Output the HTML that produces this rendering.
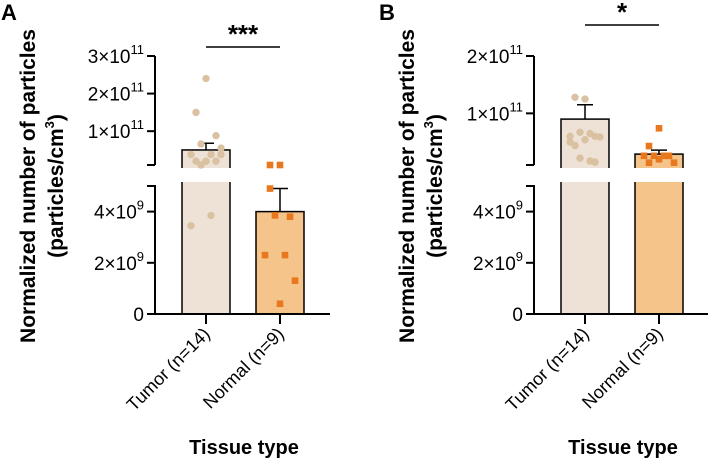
<!DOCTYPE html>
<html><head><meta charset="utf-8"><style>
body{margin:0;background:#fff}
svg{display:block;font-family:"Liberation Sans",Arial,sans-serif}
</style></head><body>
<svg id="fig" width="708" height="462" viewBox="0 0 708 462" xmlns="http://www.w3.org/2000/svg"></svg>
<script>
const categories = ["Tumor (n=14)", "Normal (n=9)"];
const aMeans = [5.0e10, 4.0e9];
const aErrTop = [6.8e10, 4.9e9];
const aTumorPts = [2.4e11, 1.5e11, 8.8e10, 6.6e10, 3.8e10, 3.8e10, 3.8e10, 2.0e10, 2.0e10, 2.0e10, 1.0e10, 3.85e9, 3.45e9, 5.5e10];
const aNormalPts = [1.0e10, 4.9e9, 3.8e9, 3.85e9, 2.3e9, 2.3e9, 1.3e9, 0.4e9, 1.0e10];
const bMeans = [9.0e10, 2.9e10];
const bErrTop = [1.15e11, 3.6e10];
const bTumorPts = [1.25e11, 1.28e11, 6.0e10, 6.7e10, 6.5e10, 5.0e10, 5.9e10, 5.4e10, 4.4e10, 1.5e10, 2.2e10, 1.7e10, 6.0e10];
const bNormalPts = [7.4e10, 4.3e10, 2.6e10, 2.6e10, 2.6e10, 2.6e10, 1.4e10, 2.0e10, 1.4e10];
const aUpperTicks = [1e11, 2e11, 3e11];
const aUpperLabels = ["1", "2", "3"];
const bUpperTicks = [1e11, 2e11];
const bUpperLabels = ["1", "2"];
const lowerTicks = [0, 2e9, 4e9];
const lowerLabels = ["0", "2", "4"];

const NS = "http://www.w3.org/2000/svg";
const svg = document.getElementById("fig");
function el(tag, attrs, parent, text) {
  const e = document.createElementNS(NS, tag);
  for (const k in attrs) e.setAttribute(k, attrs[k]);
  if (text !== undefined) e.textContent = text;
  (parent || svg).appendChild(e);
  return e;
}
const JIT = [0, -10, 10, -5, 5, -15, 15];

function panel(o) {
  const g = el("g", {});
  
  
  const ax = o.ax;
  const yUp = v => 165 - (v - 1e10) / (o.upMax - 1e10) * 109;
  const yLo = v => 314 - v / 5e9 * 128;
  const y = v => v >= 8e9 ? yUp(v) : yLo(v);
  const xc = [ax + 51, ax + 125];
  const fills = ["#ede2d5", "#f5c48a"];
  const ptc = ["#d9c1a2", "#e8781e"];
  o.means.forEach((m, i) => {
    const top = y(m);
    const b = el("rect", {x: xc[i] - 24, y: top, width: 48, height: 314 - top, fill: fills[i], stroke: "#000", "stroke-width": 1.5}, g);
    
    
    const e = el("path", {d: `M${xc[i]} ${top} V${y(o.err[i])} M${xc[i]-8} ${y(o.err[i])} H${xc[i]+8}`, stroke: "#000", "stroke-width": 1.5, fill: "none"}, g);
    
    
  });
  el("rect", {x: ax - 2, y: 168, width: 180, height: 14, fill: "#fff"}, g);
  o.tp.forEach((v, j) => {
    const c = el("circle", {cx: xc[0] + JIT[j % 7], cy: y(v), r: 3.7, fill: ptc[0]}, g);
    
    
  });
  o.np.forEach((v, j) => {
    const c = el("rect", {x: xc[1] + JIT[j % 7] - 3.3, y: y(v) - 3.3, width: 6.6, height: 6.6, fill: ptc[1]}, g);
    
    
  });
  const axes = el("path", {d: `M${ax} 56 V165 M${ax-8} 165 H${ax} M${ax-8} 186 H${ax} V314 H${ax+o.xEnd}`, stroke: "#000", "stroke-width": 2, fill: "none"}, g);
  
  
  const tickLab = (yy, mant, exp) => {
    el("path", {d: `M${ax-8} ${yy} H${ax}`, stroke: "#000", "stroke-width": 2}, g);
    const t = el("text", {x: ax - 11, y: yy + 7, "text-anchor": "end", "font-size": 19}, g);
    
    
    if (exp) {
      el("tspan", {}, t, mant + "×10");
      el("tspan", {"font-size": 13, dy: -9}, t, exp);
    } else t.textContent = mant;
  };
  o.upT.forEach((v, i) => tickLab(yUp(v), o.upL[i], "11"));
  lowerTicks.forEach((v, i) => tickLab(yLo(v), lowerLabels[i], v ? "9" : ""));
  categories.forEach((c, i) => {
    el("path", {d: `M${xc[i]} 314 V324`, stroke: "#000", "stroke-width": 2}, g);
    const t = el("text", {x: 0, y: 0, "text-anchor": "end", "font-size": 18, transform: `translate(${xc[i]+5},${335}) rotate(-45)`}, g, c);
    
    
  });
  const xt = el("text", {x: ax + 89, y: 454, "text-anchor": "middle", "font-size": 20, "font-weight": "bold"}, g, "Tissue type");
  
  
  const yt = el("text", {transform: `translate(${ax-120},186) rotate(-90)`, "text-anchor": "middle", "font-size": 21, "font-weight": "bold"}, g);
  
  
  el("tspan", {x: 0, y: 0}, yt, "Normalized number of particles");
  el("tspan", {x: 0, y: 28}, yt, "(particles/cm");
  el("tspan", {"font-size": 13, dy: -9}, yt, "3");
  el("tspan", {"font-size": 21, dy: 9}, yt, ")");
  const s = el("path", {d: `M${xc[0]} ${o.sigY} H${xc[1]}`, stroke: "#000", "stroke-width": 1.5}, g);
  
  
  const st = el("text", {x: (xc[0]+xc[1])/2, y: o.sigY - 4, "text-anchor": "middle", "font-size": 26, "font-weight": "bold"}, g, o.sig);
  
  
  const pl = el("text", {x: o.lx, y: 20, "font-size": 22, "font-weight": "bold"}, g, o.label);
  
  
}
panel({name: "panel-a", ax: 155, upMax: 3e11, means: aMeans, err: aErrTop, tp: aTumorPts, np: aNormalPts, upT: aUpperTicks, upL: aUpperLabels, xEnd: 175, sigY: 47, sig: "***", label: "A", lx: 1});
panel({name: "panel-b", ax: 534, upMax: 2e11, means: bMeans, err: bErrTop, tp: bTumorPts, np: bNormalPts, upT: bUpperTicks, upL: bUpperLabels, xEnd: 180, sigY: 25, sig: "*", label: "B", lx: 379});
</script>
</body></html>
